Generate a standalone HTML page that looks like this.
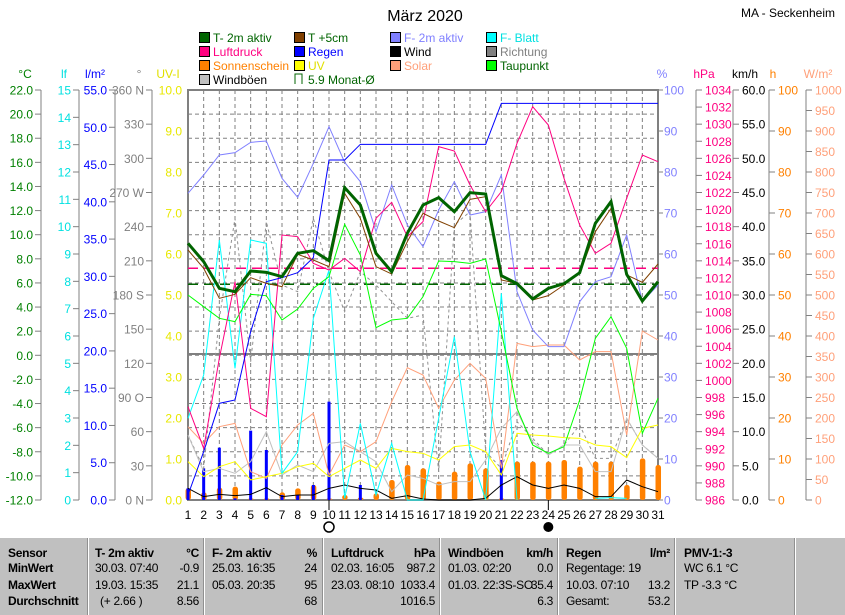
<!DOCTYPE html>
<html><head><meta charset="utf-8">
<style>
html,body{margin:0;padding:0;background:#fff;}
body{width:845px;height:615px;overflow:hidden;position:relative;font-family:"Liberation Sans",sans-serif;}
svg text{font-family:"Liberation Sans",sans-serif;}
#tbl{position:absolute;left:0;top:538px;width:845px;height:77px;background:#c0c0c0;font-size:12px;letter-spacing:-0.3px;overflow:hidden;}
.sep{position:absolute;top:0;height:77px;width:1px;background:#fff;border-left:1px solid #909090;}
.c{position:absolute;white-space:nowrap;}
.b{font-weight:bold;}
</style></head><body>
<svg id="s" width="845" height="538" xmlns="http://www.w3.org/2000/svg" style="position:absolute;left:0;top:0"></svg>
<div id="tbl"></div>
<script>
const NS="http://www.w3.org/2000/svg";const S=document.getElementById('s');
function el(t,a,txt){const e=document.createElementNS(NS,t);for(const k in a)e.setAttribute(k,a[k]);if(txt!==undefined)e.textContent=txt;S.appendChild(e);return e;}
const X=d=>188+(d-1)*15.667;const Y=z=>85+z/3;
const T=0,B=500,L=188,R=658;
el('text',{x:425,y:21,'font-size':16,'text-anchor':'middle',fill:'#000'},'März 2020');
el('text',{x:835,y:17,'font-size':12,'text-anchor':'end',fill:'#000'},'MA - Seckenheim');
const leg=[[199,38,'#006400','T- 2m aktiv','#006400'],[294,38,'#804000','T +5cm','#006400'],[390,38,'#8080ff','F- 2m aktiv','#8080ff'],[486,38,'#00ffff','F- Blatt','#00e0e0'],
[199,52,'#ff0080','Luftdruck','#ff0080'],[294,52,'#0000ff','Regen','#0000ff'],[390,52,'#000','Wind','#000'],[486,52,'#808080','Richtung','#808080'],
[199,66,'#ff8000','Sonnenschein','#ff8000'],[294,66,'#ffff00','UV','#e0e000'],[390,66,'#ffa07a','Solar','#ffa07a'],[486,66,'#00ff00','Taupunkt','#006400'],
[199,80,'#c0c0c0','Windböen','#000']];
leg.forEach(l=>{el('rect',{x:l[0]+0.5,y:l[1]-5.5,width:10,height:10,fill:l[2],stroke:'#000'});el('text',{x:l[0]+14,y:l[1]+4,'font-size':12,fill:l[4]},l[3]);});
el('path',{d:'M295,84 V74 H302 V84',fill:'none',stroke:'#006400'});
el('text',{x:308,y:84,'font-size':12,fill:'#006400'},'5.9 Monat-Ø');
[[25,'°C','#008000'],[64,'lf','#00e0e0'],[95,'l/m²','#0000ff'],[139,'°','#808080'],[168,'UV-I','#e0e000'],[662,'%','#8080ff'],[704,'hPa','#ff0080'],[745,'km/h','#000'],[773,'h','#ff8000'],[818,'W/m²','#ffa07a']].forEach(u=>el('text',{x:u[0],y:78,'font-size':12,'text-anchor':'middle',fill:u[2]},u[1]));
for(let d=1;d<=31;d++)el('line',{x1:X(d),y1:90,x2:X(d),y2:500,stroke:'#808080','stroke-dasharray':'4,3','stroke-width':1});
for(let i=1;i<17;i++){const y=90+i*410/17;el('line',{x1:L,y1:y,x2:R,y2:y,stroke:'#808080','stroke-dasharray':'4,3'});}
el('line',{x1:L,y1:354,x2:R,y2:354,stroke:'#808080','stroke-width':2});
el('rect',{x:L,y:90,width:R-L,height:410,fill:'none',stroke:'#808080','stroke-width':2});
function axis(ax,n,lab,col,right){el('line',{x1:ax,y1:90,x2:ax,y2:500,stroke:'#808080'});
 for(let i=0;i<=n;i++){const y=90+i*410/n;el('line',{x1:ax,y1:y,x2:right?ax+6:ax-6,y2:y,stroke:'#808080'});
 el('text',{x:right?ax+9:ax-8,y:y+4.5,'font-size':12,'text-anchor':right?'start':'end',fill:col},lab(i));}}
axis(41,17,i=>(22-2*i).toFixed(1),'#008000',false);
axis(79,15,i=>String(15-i),'#00e0e0',false);
axis(115,11,i=>(55-5*i).toFixed(1),'#0000ff',false);
const dirs={0:'360 N',3:'270 W',6:'180 S',9:'90  O',12:'0   N'};
axis(152,12,i=>dirs[i]||String(360-30*i),'#808080',false);
for(let i=0;i<=10;i++)el('text',{x:182,y:90+i*41+4.5,'font-size':12,'text-anchor':'end',fill:'#e8e800'},(10-i).toFixed(1));
for(let i=0;i<=10;i++){el('line',{x1:R,y1:90+i*41,x2:R+5,y2:90+i*41,stroke:'#808080'});el('text',{x:R+6,y:90+i*41+4.5,'font-size':12,fill:'#8080ff'},String(100-10*i));}
axis(696,24,i=>String(1034-2*i),'#ff0080',true);
axis(733,12,i=>(60-5*i).toFixed(1),'#000',true);
axis(769,10,i=>String(100-10*i),'#ff8000',true);
axis(806,20,i=>String(1000-50*i),'#ffa07a',true);
for(let d=1;d<=31;d++)el('text',{x:X(d),y:519,'font-size':12,'text-anchor':'middle',fill:'#000'},String(d));
el('line',{x1:X(10),y1:500,x2:X(10),y2:510,stroke:'#000'});el('line',{x1:X(24),y1:500,x2:X(24),y2:510,stroke:'#000'});
el('circle',{cx:X(10),cy:527,r:5,fill:'none',stroke:'#000','stroke-width':1.5});
el('circle',{cx:X(24),cy:527,r:5,fill:'#000'});
el('line',{x1:L,y1:268.3,x2:R,y2:268.3,stroke:'#ff0080','stroke-dasharray':'10,6','stroke-width':1.5});
el('line',{x1:L,y1:284.3,x2:R,y2:284.3,stroke:'#006400','stroke-dasharray':'10,6','stroke-width':1.5});
function line(arr,col,w,dash,start){start=start||1;el('polyline',{points:arr.map((z,i)=>X(i+start)+','+Y(z)).join(' '),fill:'none',stroke:col,'stroke-width':w||1,'stroke-dasharray':dash||'none'});}
const sun=[1210,1222,1208,1205,1240,1240,1222,1210,1200,1240,1230,1238,1225,1185,1140,1150,1190,1160,1135,1150,1240,1130,1130,1130,1125,1145,1130,1130,1200,1120,1140];
sun.forEach((z,i)=>{const y=Y(z);const h=500-y;if(h>0.5)el('rect',{x:X(i+1)-2.5,y:y,width:5.5,height:h,rx:2.5,fill:'#ff8000'});});
const rain={1:1210,2:1150,3:1088,4:1240,5:1037,6:1095,7:1230,8:1230,9:1200,10:950,12:1200,21:1125};
for(const d in rain){const y=Y(rain[d]);el('rect',{x:X(+d)-1.5,y:y,width:3,height:500-y,fill:'#0000ff'});}
line([1050,1150,700,400,830,410,600,620,400,560,680,560,600,650,700,690,1160,420,380,1100,1150,1010,1060,1110,1080,1020,1120,1120,1000,1080,1120],'#909090',1,'3,3');
line([1050,1160,1150,1165,1130,1040,1170,1140,1160,1075,1070,1100,1130,1220,1170,1180,1200,1190,1190,1125,1030,980,1070,1110,1080,1080,1160,1160,1000,1080,1120],'#c0c0c0');
line([1025,1075,1025,1015,1160,1180,1080,1020,985,1170,1080,1100,1070,950,848,870,970,885,835,880,1150,775,785,780,780,825,800,800,1050,738,765],'#ffa07a');
line([1130,1175,1145,1130,1185,1175,1165,1145,1135,1175,1150,1125,1150,1090,1100,1105,1125,1085,1080,1100,1170,1045,1050,1053,1058,1060,1080,1085,1118,1030,1020],'#ffff00');
line([1210,1235,1228,1232,1228,1208,1235,1230,1230,1210,1200,1210,1215,1240,1232,1242,1245,1245,1245,1240,1200,1175,1200,1210,1200,1210,1235,1235,1185,1205,1220],'#000');
line([1000,870,465,850,465,475,1165,1100,700,555,1240,1015,1230,1075,1245,1245,1000,755,1100,1245,625,1245],'#00ffff');
line([1240,1238,1240],'#00ffff',1,null,27);
line([630,665,700,710,628,632,705,672,610,575,418,510,728,705,700,635,528,530,535,522,740,970,1080,1105,1085,945,760,695,790,1045,940],'#00ff00');
line([325,270,210,203,172,168,280,337,235,125,232,290,440,300,420,485,375,290,390,380,270,620,735,785,785,650,590,575,450,650,600],'#8080ff');
line([965,1090,820,590,970,995,450,455,535,555,520,560,400,352,455,410,185,198,300,380,320,175,65,120,280,420,505,475,340,210,230],'#ff0080');
line([1230,1100,955,945,740,590,578,563,518,225,225,178,178,178,178,178,178,178,178,178,55,55,55,55,55,55,55,55,55,55,55],'#0000ff');
line([495,550,640,628,578,595,605,508,525,545,325,400,545,567,470,385,408,428,343,335,585,595,645,632,600,565,440,370,570,592,537],'#804000');
line([475,530,610,620,558,562,575,505,497,527,308,360,505,560,445,360,338,380,323,327,572,596,642,610,596,563,415,350,568,648,590],'#006400',3);
const tb=document.getElementById('tbl');
[88,204,323,440,558,675,795].forEach(x=>{const d=document.createElement('div');d.className='sep';d.style.left=(x-1)+'px';tb.appendChild(d);});
function c(x,y,t,b,r){const d=document.createElement('div');d.className='c'+(b?' b':'');d.style.top=(y-538)+'px';if(r){d.style.right=(845-x)+'px';}else d.style.left=x+'px';d.textContent=t;tb.appendChild(d);}
const rows=[546,561,578,594,613];
c(8,rows[0],'Sensor',1);c(8,rows[1],'MinWert',1);c(8,rows[2],'MaxWert',1);c(8,rows[3],'Durchschnitt',1);c(8,rows[4],'31.03.',1);
c(95,rows[0],'T- 2m aktiv',1);c(199,rows[0],'°C',1,1);
c(95,rows[1],'30.03.  07:40');c(199,rows[1],'-0.9',0,1);
c(95,rows[2],'19.03.  15:35');c(199,rows[2],'21.1',0,1);
c(100,rows[3],'(+ 2.66 )');c(199,rows[3],'8.56',0,1);c(199,rows[4],'6.1',1,1);
c(212,rows[0],'F- 2m aktiv',1);c(317,rows[0],'%',1,1);
c(212,rows[1],'25.03.  16:35');c(317,rows[1],'24',0,1);
c(212,rows[2],'05.03.  20:35');c(317,rows[2],'95',0,1);
c(317,rows[3],'68',0,1);c(212,rows[4],'-3.91 ↓ /h');c(317,rows[4],'53',1,1);
c(331,rows[0],'Luftdruck',1);c(435,rows[0],'hPa',1,1);
c(331,rows[1],'02.03.  16:05');c(435,rows[1],'987.2',0,1);
c(331,rows[2],'23.03.  08:10');c(435,rows[2],'1033.4',0,1);
c(435,rows[3],'1016.5',0,1);c(435,rows[4],'1025.6',1,1);
c(448,rows[0],'Windböen',1);c(553,rows[0],'km/h',1,1);
c(448,rows[1],'01.03.  02:20');c(553,rows[1],'0.0',0,1);
c(448,rows[2],'01.03. 22:3S-SO');c(553,rows[2],'35.4',0,1);
c(553,rows[3],'6.3',0,1);c(453,rows[4],'1.8% NO');c(553,rows[4],'4.0',1,1);
c(566,rows[0],'Regen',1);c(670,rows[0],'l/m²',1,1);
c(566,rows[1],'Regentage: 19');
c(566,rows[2],'10.03.  07:10');c(670,rows[2],'13.2',0,1);
c(566,rows[3],'Gesamt:');c(670,rows[3],'53.2',0,1);c(566,rows[4],'53.2 l/m²');c(670,rows[4],'0.0',1,1);
c(684,rows[0],'PMV-1:-3',1);c(684,rows[1],'WC 6.1 °C');c(684,rows[2],'TP -3.3 °C');
</script>
</body></html>
